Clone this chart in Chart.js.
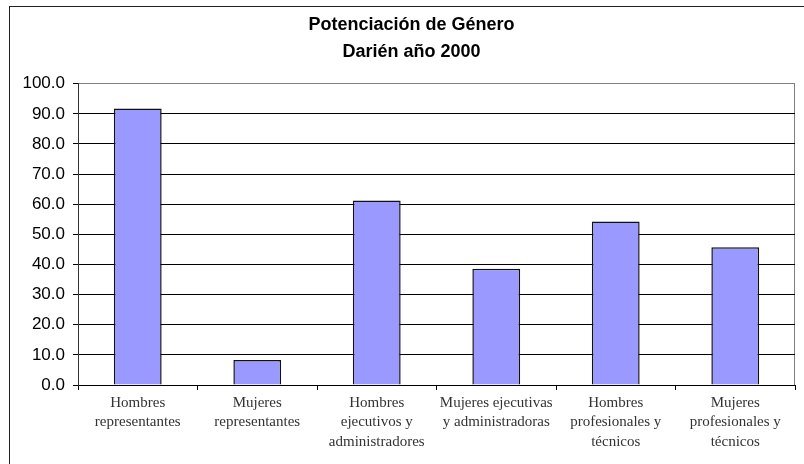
<!DOCTYPE html>
<html>
<head>
<meta charset="utf-8">
<script src="https://cdn.jsdelivr.net/npm/chart.js@4/dist/chart.umd.min.js"></script>
<style>
  html, body { margin: 0; padding: 0; background: #fff; }
  #wrap { width: 804px; height: 464px; }
</style>
</head>
<body>
<div id="wrap"><canvas id="myChart"></canvas></div>
<script>
var categories = [
    ['Hombres', 'representantes'],
    ['Mujeres', 'representantes'],
    ['Hombres', 'ejecutivos y', 'administradores'],
    ['Mujeres ejecutivas', 'y administradoras'],
    ['Hombres', 'profesionales y', 'técnicos'],
    ['Mujeres', 'profesionales y', 'técnicos']
];
var values = [91.8, 8.3, 61.2, 38.6, 54.3, 45.7];
var titleLines = ['Potenciación de Género', 'Darién año 2000'];

// marco exterior, borde gris del area de trazado y titulo centrado en todo el grafico
var frame = {
    id: 'frame',
    afterLayout: function(chart) {
        chart.titleBlock.left = 9;
        chart.titleBlock.right = 814;
    },
    beforeDraw: function(chart) {
        var c = chart.ctx;
        var a = chart.chartArea;
        c.save();
        c.strokeStyle = '#222';
        c.lineWidth = 1;
        c.strokeRect(9.5, 6.5, 900, 900);
        c.strokeStyle = '#808080';
        c.beginPath();
        c.moveTo(Math.round(a.right) - 0.5, a.top);
        c.lineTo(Math.round(a.right) - 0.5, a.bottom);
        c.stroke();
        c.restore();
    }
};

var ctx = document.getElementById('myChart').getContext('2d');
var myChart = new Chart(ctx, {
    type: 'bar',
    data: {
        labels: categories,
        datasets: [{
            data: values,
            backgroundColor: '#9999ff',
            borderColor: '#111',
            borderWidth: 1.5,
            categoryPercentage: 1,
            barPercentage: 0.4
        }]
    },
    options: {
        responsive: true,
        maintainAspectRatio: false,
        animation: false,
        layout: { padding: { left: 9, right: 9, top: 0, bottom: 0 } },
        plugins: {
            legend: { display: false },
            tooltip: { enabled: false },
            title: {
                display: true,
                text: titleLines,
                color: '#000',
                font: { family: 'Liberation Sans', size: 18, weight: 'bold', lineHeight: 1.52 },
                padding: { top: 11, bottom: 18 }
            }
        },
        scales: {
            x: {
                offset: true,
                afterFit: function(scale) { scale.height = 79; },
                grid: {
                    offset: true,
                    drawOnChartArea: false,
                    tickLength: 5,
                    tickColor: '#000'
                },
                border: { color: '#000' },
                ticks: {
                    maxRotation: 0,
                    autoSkip: false,
                    padding: 3,
                    color: '#333',
                    font: { family: 'Liberation Serif', size: 15, lineHeight: 1.3 }
                }
            },
            y: {
                min: 0,
                max: 100,
                afterFit: function(scale) { scale.width = 69; },
                grid: {
                    color: function(c) { return c.tick && c.tick.value === 100 ? '#808080' : '#000'; },
                    tickLength: 5,
                    tickColor: '#000'
                },
                border: { color: '#333' },
                ticks: {
                    stepSize: 10,
                    padding: 8,
                    color: '#000',
                    font: { family: 'Liberation Sans', size: 17 },
                    callback: function(value) {
                        return value.toFixed(1);
                    }
                }
            }
        }
    },
    plugins: [frame]
});
</script>
</body>
</html>
